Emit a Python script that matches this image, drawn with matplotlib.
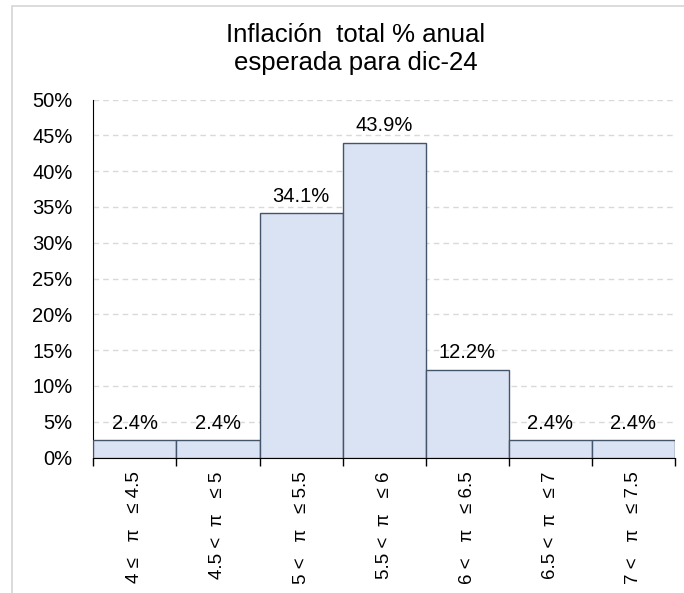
import matplotlib.pyplot as plt
from matplotlib.patches import Rectangle
from matplotlib.ticker import MultipleLocator, FuncFormatter

plt.rcParams['font.family'] = ['Liberation Sans', 'DejaVu Sans']

categories = ['4 \u2264   \u03c0   \u2264 4.5',
              '4.5 <  \u03c0   \u2264 5',
              '5 <   \u03c0   \u2264 5.5',
              '5.5 <  \u03c0   \u2264 6',
              '6 <   \u03c0   \u2264 6.5',
              '6.5 <  \u03c0   \u2264 7',
              '7 <   \u03c0   \u2264 7.5']
values = [2.4, 2.4, 34.1, 43.9, 12.2, 2.4, 2.4]
title_lines = ['Inflaci\u00f3n  total % anual', 'esperada para dic-24']

W, H = 684, 593
fig = plt.figure(figsize=(W / 100, H / 100), dpi=100)
# light grey chart frame (only the left and top edges fall inside the picture)
fig.patches.append(Rectangle((11.5 / W, -0.1), 1.2, 1 - 6 / H + 0.1,
                             transform=fig.transFigure, fill=False,
                             edgecolor='#d9d9d9', linewidth=1.3))
ax = fig.add_axes([93.3 / W, 1 - 457.5 / H, (675 - 93.3) / W, (457.5 - 99.5) / H])

x = list(range(len(values)))
ax.bar(x, values, width=1.0, color='#dae3f3', edgecolor='#44546a', linewidth=1.0, zorder=3)

for xi, v in zip(x, values):
    ax.annotate(f'{v:.1f}%', (xi, v), xytext=(0, 8.5), textcoords='offset points',
                ha='center', va='baseline', fontsize=14.5, color='black', zorder=4)

ax.set_xlim(-0.5, len(values) - 0.5)
ax.set_ylim(0, 50)
ax.yaxis.set_major_locator(MultipleLocator(5))
ax.yaxis.set_major_formatter(FuncFormatter(lambda v, p: f'{v:.0f}%'))
ax.grid(axis='y', linestyle=(0, (4, 3)), color='#d9d9d9', linewidth=1.0, zorder=0)

ax.set_xticks([i - 0.5 for i in range(len(values) + 1)])
ax.set_xticklabels([])
ax.set_xticks(x, minor=True)
ax.set_xticklabels(categories, minor=True, rotation=90, va='top', ha='center', fontsize=13.5)
ax.tick_params(axis='x', which='major', direction='out', length=6, width=1.0)
ax.tick_params(axis='x', which='minor', length=0, pad=10)
ax.tick_params(axis='y', length=0, labelsize=14.5, pad=15)

for side in ('top', 'right'):
    ax.spines[side].set_visible(False)
ax.spines['left'].set_color('black')
ax.spines['bottom'].set_color('black')

fig.text(356 / W, 1 - 41.7 / H, title_lines[0], ha='center', va='baseline',
         fontsize=18.5, color='black')
fig.text(356 / W, 1 - 70 / H, title_lines[1], ha='center', va='baseline',
         fontsize=18.5, color='black')

fig.savefig('out.png', dpi=100)
